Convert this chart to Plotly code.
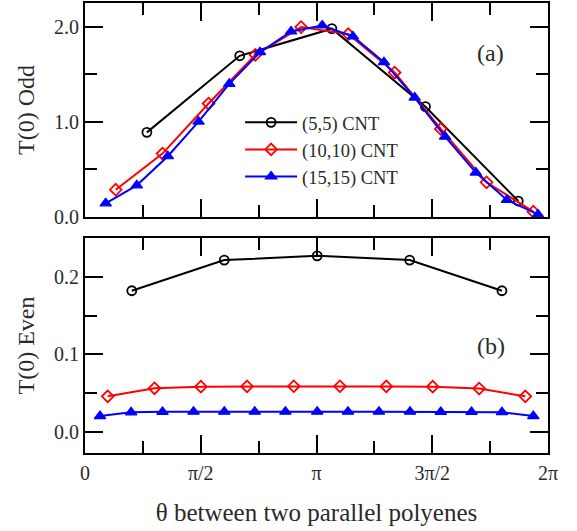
import plotly.graph_objects as go
from plotly.subplots import make_subplots
import math

PI = math.pi

# ---- data ----
odd_55_x = [0.84, 2.10, 3.35, 4.62, 5.88]
odd_55_y = [0.89, 1.695, 1.98, 1.16, 0.168]

odd_1010_x = [0.417, 1.052, 1.677, 2.312, 2.933, 3.572, 4.202, 4.828, 5.449, 6.084]
odd_1010_y = [0.287, 0.667, 1.193, 1.705, 1.997, 1.923, 1.519, 0.926, 0.365, 0.056]

odd_1515_x = [0.281, 0.703, 1.124, 1.541, 1.958, 2.375, 2.797, 3.219, 3.636, 4.057,
              4.474, 4.887, 5.304, 5.726, 6.147]
odd_1515_y = [0.144, 0.333, 0.639, 1.003, 1.40, 1.733, 1.951, 2.014, 1.898, 1.628,
              1.256, 0.845, 0.467, 0.179, 0.028]

even_55_x = [0.635, 1.890, 3.151, 4.406, 5.658]
even_55_y = [0.182, 0.2215, 0.227, 0.2215, 0.182]

even_1010_x = [0.308, 0.943, 1.573, 2.199, 2.833, 3.459, 4.089, 4.719, 5.349, 5.975]
even_1010_y = [0.046, 0.0564, 0.0585, 0.0588, 0.059, 0.059, 0.0588, 0.0585, 0.0560, 0.046]

even_1515_x = [0.204, 0.626, 1.052, 1.473, 1.890, 2.303, 2.720, 3.151, 3.568, 3.989,
               4.411, 4.828, 5.245, 5.658, 6.084]
even_1515_y = [0.0206, 0.0254, 0.0260, 0.0262, 0.0262, 0.0262, 0.0262, 0.0262, 0.0262,
               0.0262, 0.0262, 0.0260, 0.0260, 0.0256, 0.0206]

series_names = ["(5,5) CNT", "(10,10) CNT", "(15,15) CNT"]
x_tickvals = [0, PI / 2, PI, 3 * PI / 2, 2 * PI]
x_ticktext = ["0", "π/2", "π", "3π/2", "2π"]
odd_tickvals = [0, 1, 2]
odd_ticktext = ["0.0", "1.0", "2.0"]
even_tickvals = [0, 0.1, 0.2]
even_ticktext = ["0.0", "0.1", "0.2"]

FONT = "Liberation Serif"
TXT = "#2a2a2a"

fig = make_subplots(rows=2, cols=1, shared_xaxes=False, vertical_spacing=0.0)

styles = [
    dict(color="black", symbol="circle-open", size=9, lw=1.8),
    dict(color="red", symbol="diamond-open", size=9, lw=1.8),
    dict(color="blue", symbol="triangle-up", size=10, lw=1.2),
]

odd = [(odd_55_x, odd_55_y), (odd_1010_x, odd_1010_y), (odd_1515_x, odd_1515_y)]
even = [(even_55_x, even_55_y), (even_1010_x, even_1010_y), (even_1515_x, even_1515_y)]

for i, (xs, ys) in enumerate(odd):
    s = styles[i]
    fig.add_trace(go.Scatter(x=xs, y=ys, mode="lines+markers", name=series_names[i],
                             line=dict(color=s["color"], width=2),
                             marker=dict(symbol=s["symbol"], size=s["size"], color=s["color"],
                                         line=dict(color=s["color"], width=s["lw"])),
                             showlegend=True), row=1, col=1)
for i, (xs, ys) in enumerate(even):
    s = styles[i]
    fig.add_trace(go.Scatter(x=xs, y=ys, mode="lines+markers", name=series_names[i],
                             line=dict(color=s["color"], width=2),
                             marker=dict(symbol=s["symbol"], size=s["size"], color=s["color"],
                                         line=dict(color=s["color"], width=s["lw"])),
                             showlegend=False), row=2, col=1)

common_axis = dict(showline=True, linecolor="black", linewidth=2, mirror="allticks",
                   ticks="inside", ticklen=18, tickwidth=2, tickcolor="black",
                   showgrid=False, zeroline=False, automargin=False,
                   tickfont=dict(family=FONT, size=20, color=TXT))

fig.update_xaxes(**common_axis, range=[0, 2 * PI], tickvals=x_tickvals, ticktext=x_ticktext,
                 minor=dict(tickvals=[PI / 4, 3 * PI / 4, 5 * PI / 4, 7 * PI / 4],
                            ticklen=12, tickwidth=2, tickcolor="black", ticks="inside"))
fig.update_xaxes(showticklabels=False, row=1, col=1)
fig.update_xaxes(ticklabelstandoff=1,
                 title=dict(text="θ between two parallel polyenes",
                            font=dict(family=FONT, size=25, color=TXT), standoff=20),
                 row=2, col=1)

fig.update_yaxes(**common_axis)
fig.update_yaxes(range=[0, 2.25], tickvals=odd_tickvals, ticktext=odd_ticktext,
                 minor=dict(tickvals=[0.5, 1.5], ticklen=12, tickwidth=2,
                            tickcolor="black", ticks="inside"),
                 title=dict(text="T(0) Odd", font=dict(family=FONT, size=24, color=TXT),
                            standoff=13),
                 domain=[0.5244, 1.0], row=1, col=1)
fig.update_yaxes(range=[-0.027, 0.25], tickvals=even_tickvals, ticktext=even_ticktext,
                 minor=dict(tickvals=[0.05, 0.15], ticklen=12, tickwidth=2,
                            tickcolor="black", ticks="inside"),
                 title=dict(text="T(0) Even", font=dict(family=FONT, size=24, color=TXT),
                            standoff=13),
                 domain=[0.0, 0.4778], row=2, col=1)

fig.add_annotation(text="(a)", xref="paper", yref="paper", x=0.875, y=0.889,
                   xanchor="center", yanchor="middle",
                   showarrow=False, font=dict(family=FONT, size=24, color=TXT))
fig.add_annotation(text="(b)", xref="paper", yref="paper", x=0.877, y=0.238,
                   xanchor="center", yanchor="middle",
                   showarrow=False, font=dict(family=FONT, size=24, color=TXT))

fig.update_layout(
    width=577, height=531,
    font=dict(family=FONT, color=TXT),
    margin=dict(l=85, r=29, t=3, b=78, autoexpand=False),
    plot_bgcolor="white", paper_bgcolor="white",
    legend=dict(x=0.335, y=0.776, xanchor="left", yanchor="top",
                font=dict(family=FONT, size=18.5, color=TXT),
                bgcolor="rgba(0,0,0,0)", tracegroupgap=0, itemwidth=52),
    showlegend=True,
)

fig.write_html("out.html", config={"displayModeBar": False},
               post_script="document.body.style.margin='0';")
